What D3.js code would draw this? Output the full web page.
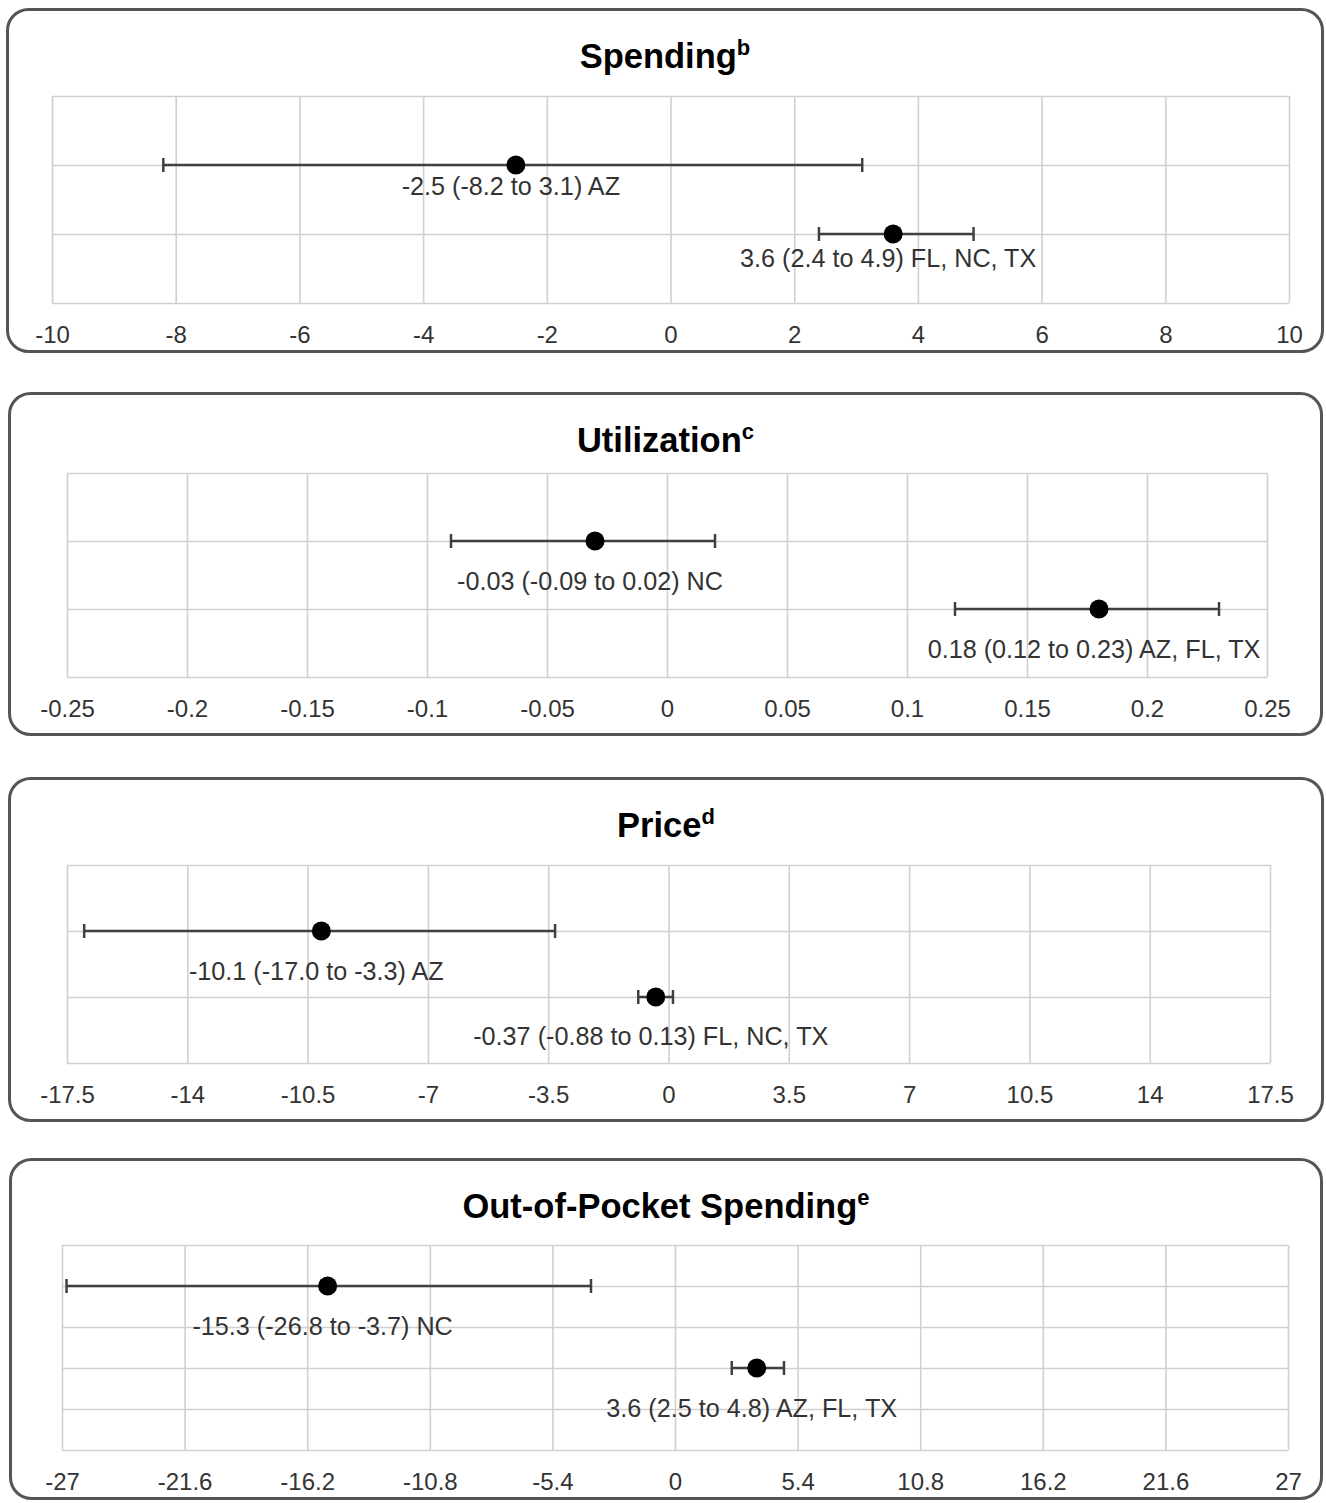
<!DOCTYPE html>
<html><head><meta charset="utf-8">
<script src="https://cdn.jsdelivr.net/npm/d3@7"></script>
<style>body{margin:0;background:#fff}svg{display:block}text{font-family:"Liberation Sans",Arial,Helvetica,sans-serif}</style>
</head><body>
<svg id="c" width="1326" height="1503"></svg>
<script>
// ---- data ----
const panelTitles = ["Spending", "Utilization", "Price", "Out-of-Pocket Spending"];
const panelNotes = ["b", "c", "d", "e"];

const spendingTicks = ["-10","-8","-6","-4","-2","0","2","4","6","8","10"];
const spendingEstimates = [-2.5, 3.6];
const spendingLower = [-8.2, 2.4];
const spendingUpper = [3.1, 4.9];
const spendingRows = [2, 1];
const spendingRowCount = 3;
const spendingLabels = ["-2.5 (-8.2 to 3.1) AZ", "3.6 (2.4 to 4.9) FL, NC, TX"];

const utilizationTicks = ["-0.25","-0.2","-0.15","-0.1","-0.05","0","0.05","0.1","0.15","0.2","0.25"];
const utilizationEstimates = [-0.03, 0.18];
const utilizationLower = [-0.09, 0.12];
const utilizationUpper = [0.02, 0.23];
const utilizationRows = [2, 1];
const utilizationRowCount = 3;
const utilizationLabels = ["-0.03 (-0.09 to 0.02) NC", "0.18 (0.12 to 0.23) AZ, FL, TX"];

const priceTicks = ["-17.5","-14","-10.5","-7","-3.5","0","3.5","7","10.5","14","17.5"];
const priceEstimates = [-10.1, -0.37];
const priceLower = [-17.0, -0.88];
const priceUpper = [-3.3, 0.13];
const priceRows = [2, 1];
const priceRowCount = 3;
const priceLabels = ["-10.1 (-17.0 to -3.3) AZ", "-0.37 (-0.88 to 0.13) FL, NC, TX"];

const oopTicks = ["-27","-21.6","-16.2","-10.8","-5.4","0","5.4","10.8","16.2","21.6","27"];
const oopEstimates = [-15.3, 3.6];
const oopLower = [-26.8, 2.5];
const oopUpper = [-3.7, 4.8];
const oopRows = [4, 2];
const oopRowCount = 5;
const oopLabels = ["-15.3 (-26.8 to -3.7) NC", "3.6 (2.5 to 4.8) AZ, FL, TX"];

// ---- layout (positions/styles only) ----
const layout = [
  {box:[7.5,9.5,1315,342], plot:[52,1289,96,303], labelDy:[30,33]},
  {box:[9.5,393.5,1312,341], plot:[67,1267,473,677], labelDy:[49,49]},
  {box:[9.5,778.5,1313,342], plot:[67,1270,865,1063], labelDy:[49,48]},
  {box:[10.5,1159.5,1311,339], plot:[62,1288,1245,1450], labelDy:[49,49]}
];

const panels = [
  {ticks:spendingTicks, est:spendingEstimates, lo:spendingLower, hi:spendingUpper, rows:spendingRows, rowCount:spendingRowCount, labels:spendingLabels},
  {ticks:utilizationTicks, est:utilizationEstimates, lo:utilizationLower, hi:utilizationUpper, rows:utilizationRows, rowCount:utilizationRowCount, labels:utilizationLabels},
  {ticks:priceTicks, est:priceEstimates, lo:priceLower, hi:priceUpper, rows:priceRows, rowCount:priceRowCount, labels:priceLabels},
  {ticks:oopTicks, est:oopEstimates, lo:oopLower, hi:oopUpper, rows:oopRows, rowCount:oopRowCount, labels:oopLabels}
];

const svg = d3.select("#c");
svg.append("rect").attr("width",1326).attr("height",1503).attr("fill","#fff");

panels.forEach((p, i) => {
  const L = layout[i];
  const [bx, by, bw, bh] = L.box;
  const [x0, x1, y0, y1] = L.plot;
  const g = svg.append("g");

  g.append("rect").attr("x",bx).attr("y",by).attr("width",bw).attr("height",bh)
    .attr("rx",21).attr("ry",21).attr("fill","#fff").attr("stroke","#555").attr("stroke-width",3);

  // title
  const t = g.append("text").attr("x", bx + bw/2).attr("y", by + 58)
    .attr("text-anchor","middle").attr("font-weight","bold").attr("font-size",34.5).attr("fill","#000");
  t.append("tspan").text(panelTitles[i]);
  t.append("tspan").attr("font-size",22).attr("dy",-13).text(panelNotes[i]);

  const tickVals = p.ticks.map(Number);
  const x = d3.scaleLinear().domain([tickVals[0], tickVals[tickVals.length-1]]).range([x0, x1]);
  const y = d3.scaleLinear().domain([0, p.rowCount]).range([y1, y0]);

  // vertical gridlines
  const xg = g.append("g").attr("transform", `translate(0,${y0})`)
    .call(d3.axisBottom(x).tickValues(tickVals).tickSize(y1 - y0).tickFormat(""));
  xg.select(".domain").remove();
  xg.selectAll(".tick line").attr("stroke","#d0d0d0").attr("stroke-width",1.6);

  // horizontal gridlines
  const yg = g.append("g").attr("transform", `translate(${x0},0)`)
    .call(d3.axisRight(y).tickValues(d3.range(p.rowCount + 1)).tickSize(x1 - x0).tickFormat(""));
  yg.select(".domain").remove();
  yg.selectAll(".tick line").attr("stroke","#d0d0d0").attr("stroke-width",1.6);

  // tick labels
  const xa = g.append("g").attr("transform", `translate(0,${y1})`)
    .call(d3.axisBottom(x).tickValues(tickVals).tickSize(0).tickPadding(0)
      .tickFormat((d, k) => p.ticks[k]));
  xa.select(".domain").remove();
  xa.selectAll(".tick text").attr("font-size",24).attr("fill","#333")
    .attr("font-family",'"Liberation Sans",Arial,sans-serif').attr("dy",null).attr("y",40);

  // error bars
  p.est.forEach((e, k) => {
    const cy = y(p.rows[k]);
    g.append("line").attr("x1",x(p.lo[k])).attr("x2",x(p.hi[k])).attr("y1",cy).attr("y2",cy)
      .attr("stroke","#404040").attr("stroke-width",2.5);
    [p.lo[k], p.hi[k]].forEach(v => {
      g.append("line").attr("x1",x(v)).attr("x2",x(v)).attr("y1",cy-7).attr("y2",cy+7)
        .attr("stroke","#404040").attr("stroke-width",2.5);
    });
    g.append("circle").attr("cx",x(e)).attr("cy",cy).attr("r",9.5).attr("fill","#000");
    g.append("text").attr("x",x(e) - 5).attr("y",cy + L.labelDy[k]).attr("text-anchor","middle")
      .attr("font-size",25.2).attr("fill","#333").text(p.labels[k]);
  });
});
</script>
</body></html>
